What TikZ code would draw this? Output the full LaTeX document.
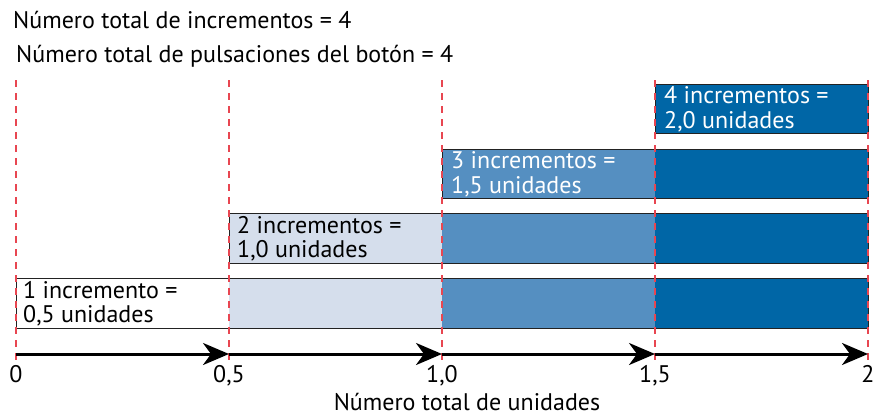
\documentclass[tikz,border=0pt]{standalone}
\usepackage{fontspec}
\setmainfont{PT Sans}
\usetikzlibrary{arrows.meta}
\definecolor{cLight}{HTML}{D5DEEC}
\definecolor{cMid}{HTML}{558FC1}
\definecolor{cDark}{HTML}{0066A6}
\definecolor{cRed}{HTML}{E84651}
\definecolor{cFrame}{HTML}{222222}
\tikzset{
  txt/.style={font=\fontsize{24bp}{24.5bp}\selectfont, inner sep=0pt},
  lbl/.style={txt, align=left, anchor=west},
  frame/.style={draw=cFrame, line width=1.4bp, fill=none, inner sep=0pt, anchor=north west},
  guide/.style={draw=cRed, line width=1.3bp, dash pattern=on 7bp off 6bp},
  axisarrow/.style={line width=3bp, -{Stealth[length=26bp,width=22bp,inset=8bp]}},
}
\begin{document}
\begin{tikzpicture}[x=1bp,y=-1bp]
\useasboundingbox (0,0) rectangle (873,417);
% top texts
\node[txt, anchor=base west] (title1) at (13,28) {Número total de incrementos = 4};
\node[txt, anchor=base west] (title2) at (16,62) {Número total de pulsaciones del botón = 4};
% fills
\fill[cLight] (229,278) rectangle (442,328);
\fill[cMid]   (442,278) rectangle (655,328);
\fill[cDark]  (655,278) rectangle (868,328);
\fill[cLight] (229,213) rectangle (442,263);
\fill[cMid]   (442,213) rectangle (655,263);
\fill[cDark]  (655,213) rectangle (868,263);
\fill[cMid]   (442,149) rectangle (655,198);
\fill[cDark]  (655,149) rectangle (868,198);
\fill[cDark]  (655,84) rectangle (868,133);
% frames
\node[frame, minimum width=852bp, minimum height=50bp] (row1) at (16,278) {};
\node[frame, minimum width=639bp, minimum height=50bp] (row2) at (229,213) {};
\node[frame, minimum width=426bp, minimum height=49bp] (row3) at (442,149) {};
\node[frame, minimum width=213bp, minimum height=49bp] (row4) at (655,84) {};
% labels
\node[lbl] (lab1) at ([xshift=7bp]row1.west) {1 incremento =\\0,5 unidades};
\node[lbl] (lab2) at ([xshift=8bp]row2.west) {2 incrementos =\\1,0 unidades};
\node[lbl, text=white] (lab3) at ([xshift=9bp]row3.west) {3 incrementos =\\1,5 unidades};
\node[lbl, text=white] (lab4) at ([xshift=9bp]row4.west) {4 incrementos =\\2,0 unidades};
% guides
\foreach \x in {16,229,442,655,868} {
  \draw[guide] (\x,80) -- (\x,362);
}
% axis
\coordinate (a0) at (16,354);
\coordinate (a1) at (229,354);
\coordinate (a2) at (442,354);
\coordinate (a3) at (655,354);
\coordinate (a4) at (868,354);
\draw[axisarrow] (a0) -- (a1);
\draw[axisarrow] (a1) -- (a2);
\draw[axisarrow] (a2) -- (a3);
\draw[axisarrow] (a3) -- (a4);
\node[txt, anchor=base] (t0) at (16,382) {0};
\node[txt, anchor=base] (t1) at (229,382) {0,5};
\node[txt, anchor=base] (t2) at (442,382) {1,0};
\node[txt, anchor=base] (t3) at (655,382) {1,5};
\node[txt, anchor=base] (t4) at (868,382) {2};
\node[txt, anchor=base] (axis) at (467,410) {Número total de unidades};
\end{tikzpicture}
\end{document}
